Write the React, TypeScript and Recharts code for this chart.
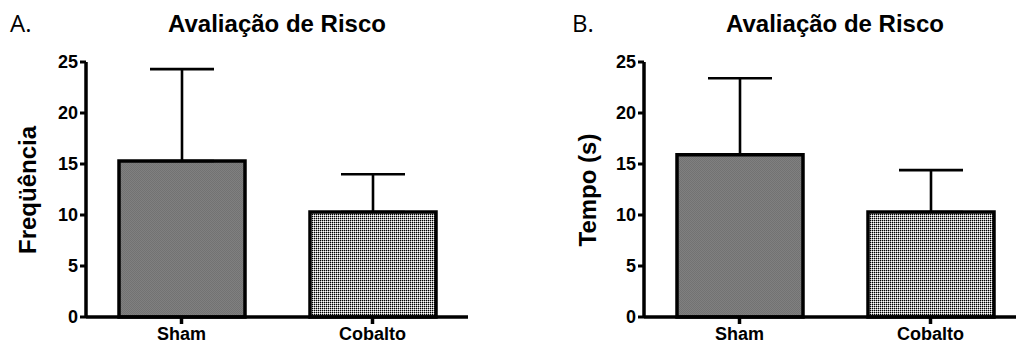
import { BarChart, Bar, XAxis, YAxis, ErrorBar, Cell } from "recharts";

const groups = ["Sham", "Cobalto"];
const freqMeans = [15.3, 10.3];
const freqErr = [9.0, 3.7];
const tempoMeans = [15.9, 10.3];
const tempoErr = [7.5, 4.1];
const yTicks = [0, 5, 10, 15, 20, 25];

const font = "'Liberation Sans', Arial, sans-serif";

const build = (means: number[], errs: number[]) =>
  groups.map((name, i) => ({ name, value: means[i], err: [0, errs[i]] }));

const Panel = ({
  left,
  width,
  right,
  data,
  id,
}: {
  left: number;
  width: number;
  right: number;
  data: { name: string; value: number; err: number[] }[];
  id: string;
}) => (
  <div style={{ position: "absolute", left, top: 0 }}>
    <BarChart
      width={width}
      height={349}
      data={data}
      margin={{ top: 62, right, bottom: 0, left: 0 }}
      barSize={126}
    >
      <defs>
        <pattern id={`${id}-sham`} width="2" height="2" patternUnits="userSpaceOnUse">
          <rect width="2" height="2" fill="#808080" />
          <rect width="1" height="1" fill="#727272" />
          <rect x="1" y="1" width="1" height="1" fill="#727272" />
        </pattern>
        <pattern id={`${id}-cob`} width="2" height="2" patternUnits="userSpaceOnUse">
          <rect width="2" height="2" fill="#a4a4a4" />
          <rect width="1" height="1" fill="#000" />
          <rect x="1" y="1" width="1" height="1" fill="#fff" />
        </pattern>
      </defs>
      <XAxis
        dataKey="name"
        height={32}
        tickSize={7}
        tickMargin={3}
        axisLine={{ stroke: "#000", strokeWidth: 3.5 }}
        tickLine={{ stroke: "#000", strokeWidth: 3.5 }}
        tick={{ fill: "#000", fontSize: 18, fontWeight: "bold", fontFamily: font }}
      />
      <YAxis
        width={86}
        domain={[0, 25]}
        ticks={yTicks}
        interval={0}
        tickSize={6}
        tickMargin={2}
        axisLine={{ stroke: "#000", strokeWidth: 3.5 }}
        tickLine={{ stroke: "#000", strokeWidth: 3 }}
        tick={{ fill: "#000", fontSize: 18, fontWeight: "bold", fontFamily: font }}
      />
      <Bar dataKey="value" stroke="#000" strokeWidth={3.5} isAnimationActive={false}>
        <Cell fill={`url(#${id}-sham)`} />
        <Cell fill={`url(#${id}-cob)`} />
        <ErrorBar dataKey="err" width={32} stroke="#000" strokeWidth={2.6} />
      </Bar>
    </BarChart>
  </div>
);

export default function App() {
  return (
    <div
      style={{
        position: "absolute",
        left: 0,
        top: 0,
        width: 1016,
        height: 349,
        overflow: "hidden",
        background: "#fff",
      }}
    >
      <Panel left={0} width={500} right={32} data={build(freqMeans, freqErr)} id="a" />
      <Panel left={558} width={480} right={12} data={build(tempoMeans, tempoErr)} id="b" />
      <svg
        width={1016}
        height={349}
        style={{ position: "absolute", left: 0, top: 0, pointerEvents: "none" }}
      >
        <text x={10} y={32} fontSize={24} fontFamily="'Open Sans', sans-serif" fill="#000">
          A.
        </text>
        <text x={572} y={32} fontSize={24} fontFamily="'Open Sans', sans-serif" fill="#000">
          B.
        </text>
        <text x={277} y={32} fontSize={24} fontWeight="bold" fontFamily={font} textAnchor="middle">
          Avaliação de Risco
        </text>
        <text x={835} y={32} fontSize={24} fontWeight="bold" fontFamily={font} textAnchor="middle">
          Avaliação de Risco
        </text>
        <text
          x={36}
          y={190}
          fontSize={24}
          fontWeight="bold"
          fontFamily={font}
          textAnchor="middle"
          transform="rotate(-90 36 190)"
        >
          Freqüência
        </text>
        <text
          x={596}
          y={190}
          fontSize={24}
          fontWeight="bold"
          fontFamily={font}
          textAnchor="middle"
          transform="rotate(-90 596 190)"
        >
          Tempo (s)
        </text>
      </svg>
    </div>
  );
}
